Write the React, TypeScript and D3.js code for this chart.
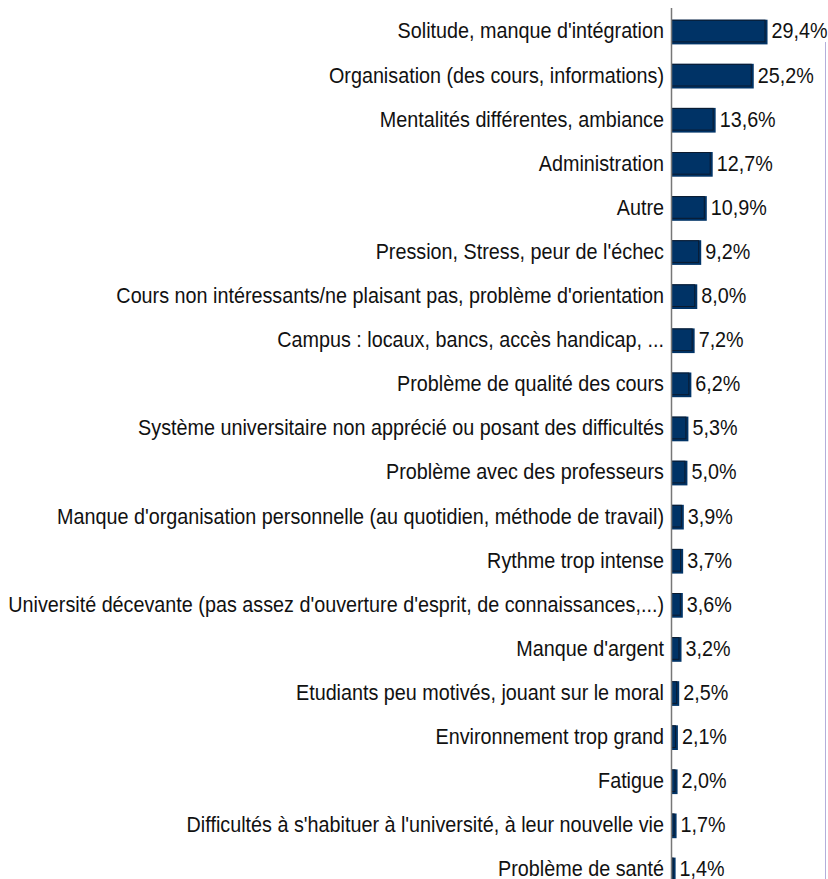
import React from 'react';
import * as d3 from 'd3';

const categories = [
  "Solitude, manque d'intégration",
  'Organisation (des cours, informations)',
  'Mentalités différentes, ambiance',
  'Administration',
  'Autre',
  "Pression, Stress, peur de l'échec",
  "Cours non intéressants/ne plaisant pas, problème d'orientation",
  'Campus : locaux, bancs, accès handicap, ...',
  'Problème de qualité des cours',
  'Système universitaire non apprécié ou posant des difficultés',
  'Problème avec des professeurs',
  "Manque d'organisation personnelle (au quotidien, méthode de travail)",
  'Rythme trop intense',
  "Université décevante (pas assez d'ouverture d'esprit, de connaissances,...)",
  "Manque d'argent",
  'Etudiants peu motivés, jouant sur le moral',
  'Environnement trop grand',
  'Fatigue',
  "Difficultés à s'habituer à l'université, à leur nouvelle vie",
  'Problème de santé',
];

const values = [29.4, 25.2, 13.6, 12.7, 10.9, 9.2, 8.0, 7.2, 6.2, 5.3, 5.0, 3.9, 3.7, 3.6, 3.2, 2.5, 2.1, 2.0, 1.7, 1.4];

const width = 828;
const height = 879;
const axisX = 671;

const fmt = (v: number) => v.toFixed(1).replace('.', ',') + '%';

// text is slightly condensed horizontally in the original
const sx = 0.924;

const App: React.FC = () => {
  const x = d3.scaleLinear().domain([0, 30]).range([axisX, axisX + 98.5]);
  const y = d3.scaleBand<string>()
    .domain(categories)
    .range([10, 892])
    .paddingInner(0.44)
    .paddingOuter(0.22);
  const bh = y.bandwidth();

  return (
    <svg width={width} height={height} style={{ position: 'absolute', left: 0, top: 0 }}
      fontFamily="'Liberation Sans', Arial, sans-serif">
      <rect width={width} height={height} fill="#fff" />
      {/* right frame line */}
      <line x1={825.5} x2={825.5} y1={42} y2={height} stroke="#b4aedb" strokeWidth={1} />
      {categories.map((c, i) => {
        const y0 = y(c)!;
        const x1 = x(values[i]);
        const cy = y0 + bh / 2;
        return (
          <g key={c}>
            <rect x={axisX} y={y0} width={x1 - axisX} height={bh} fill="#003366" />
            <rect x={axisX + 0.5} y={y0 + 0.5} width={Math.max(x1 - axisX - 3, 0.5)} height={bh - 3}
              fill="none" stroke="#0b1a2e" strokeWidth={1} />
            <text transform={`translate(${axisX - 7},${cy}) scale(${sx},1)`} dy="0.3em"
              textAnchor="end" fontSize={21.4} fill="#111">{c}</text>
            <text transform={`translate(${x1 + 4},${cy}) scale(${sx},1)`} dy="0.3em"
              textAnchor="start" fontSize={21.4} fill="#111">{fmt(values[i])}</text>
          </g>
        );
      })}
      <line x1={axisX + 0.5} x2={axisX + 0.5} y1={8} y2={height} stroke="#777" strokeWidth={1.5} />
    </svg>
  );
};

export default App;
